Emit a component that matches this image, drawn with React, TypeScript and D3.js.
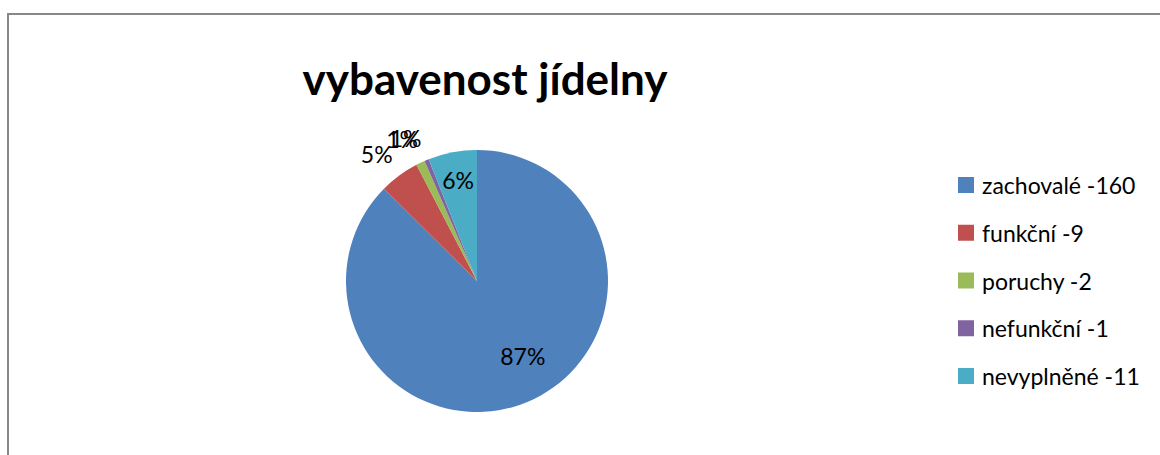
import React from "react";
import * as d3 from "d3";

const categories = ["zachovalé", "funkční", "poruchy", "nefunkční", "nevyplněné"];
const values = [160, 9, 2, 1, 11];
const colors = ["#4F81BD", "#C0504D", "#9BBB59", "#8064A2", "#4BACC6"];
const title = "vybavenost jídelny";

const W = 1160;
const H = 455;
const cx = 477;
const cy = 281;
const R = 131;
const FONT = "Lato, 'Open Sans', sans-serif";

export default function App() {
  const total = d3.sum(values);
  const pie = d3.pie<number>().sort(null).value((d) => d)(values);
  const arc = d3.arc<d3.PieArcDatum<number>>().innerRadius(0).outerRadius(R);
  const inner = d3.arc<d3.PieArcDatum<number>>().innerRadius(R * 0.69).outerRadius(R * 0.69);
  const outer = d3.arc<d3.PieArcDatum<number>>().innerRadius(R * 1.2).outerRadius(R * 1.2);
  const nudges: [number, number][] = [[11, -8], [-7, 0], [-7, 0], [-11, 2], [-2, -12]];

  const legendY = d3.scalePoint<number>().domain(d3.range(categories.length)).range([185, 376]);

  return (
    <div style={{ position: "fixed", left: 0, top: 0 }}>
      <svg width={W} height={H} style={{ display: "block", background: "#fff" }}>
        <rect x={8} y={14} width={W + 20} height={H + 20} fill="#fff" stroke="#888" strokeWidth={2} />
        <text x={485} y={95} textAnchor="middle" fontFamily={FONT} fontWeight="bold" fontSize={44} fill="#000">
          {title}
        </text>
        <g transform={`translate(${cx},${cy})`}>
          {pie.map((p, i) => (
            <path key={i} d={arc(p) || ""} fill={colors[i]} />
          ))}
          {pie.map((p, i) => {
            const pct = Math.round((p.value / total) * 100);
            const isOut = p.value / total < 0.055;
            const [x, y] = (isOut ? outer : inner).centroid(p);
            const [nx, ny] = nudges[i];
            return (
              <text
                key={"l" + i}
                x={x + nx}
                y={y + ny}
                textAnchor="middle"
                dominantBaseline="central"
                fontFamily={FONT}
                fontSize={23}
                fill="#000"
              >
                {pct + "%"}
              </text>
            );
          })}
        </g>
        {categories.map((c, i) => (
          <g key={"lg" + i} transform={`translate(958,${legendY(i)})`}>
            <rect x={0} y={-8} width={16} height={16} fill={colors[i]} />
            <text x={24} y={0} dominantBaseline="central" fontFamily={FONT} fontSize={23} fill="#000">
              {c + " -" + values[i]}
            </text>
          </g>
        ))}
      </svg>
    </div>
  );
}
